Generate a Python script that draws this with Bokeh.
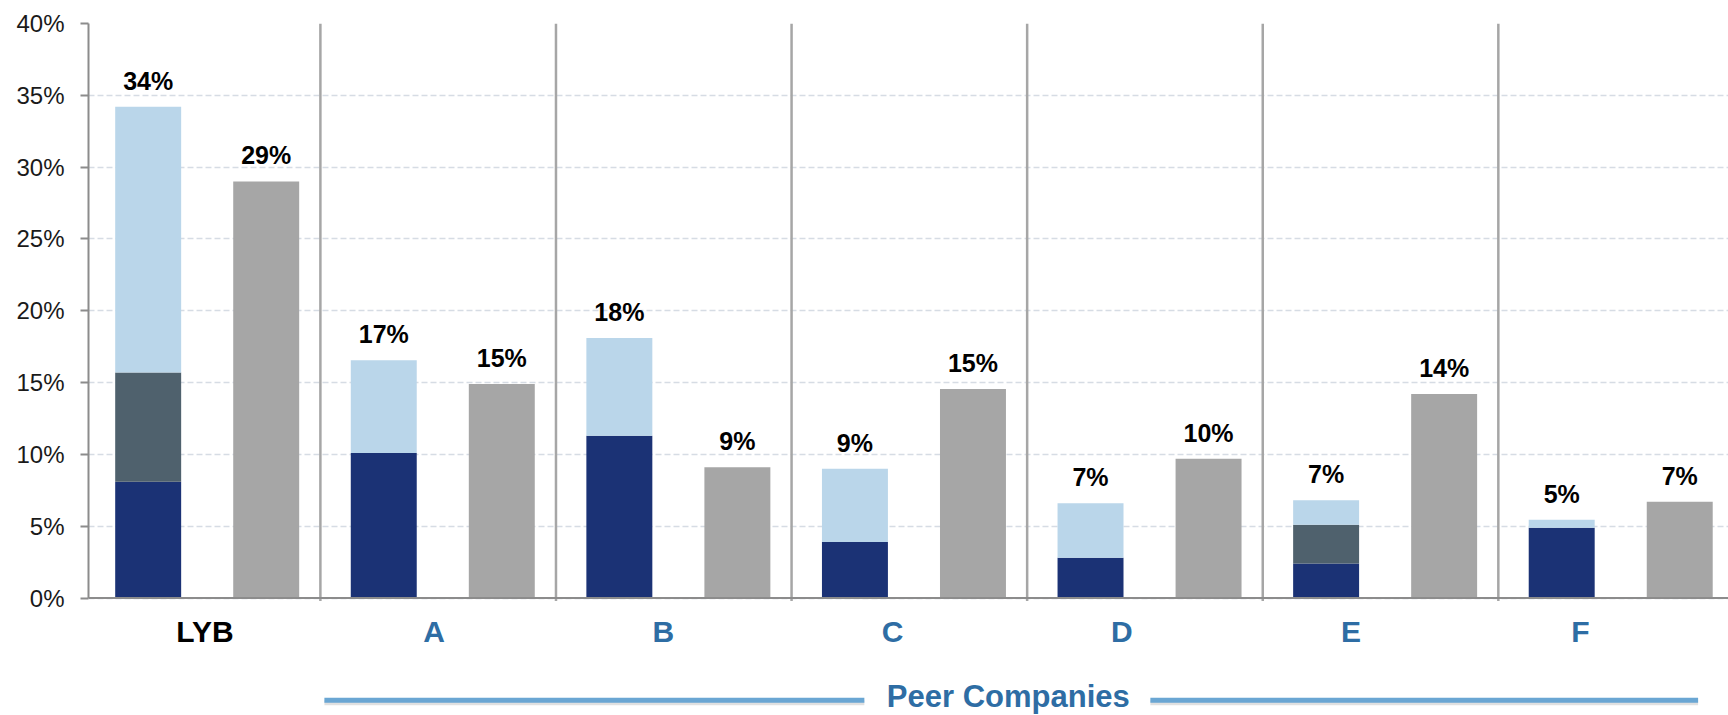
import numpy as np
from bokeh.plotting import figure
from bokeh.models import Range1d, FixedTicker, PrintfTickFormatter, ColumnDataSource, Span
from bokeh.core.properties import value
from bokeh.embed import file_html
from bokeh.resources import INLINE

# Company groups and their stacked / single bar values (percent)
companies = ["LYB", "A", "B", "C", "D", "E", "F"]
navy_part = [8.1, 10.1, 11.3, 3.9, 2.8, 2.4, 4.9]
slate_part = [7.6, 0.0, 0.0, 0.0, 0.0, 2.7, 0.0]
light_part = [18.5, 6.45, 6.8, 5.1, 3.8, 1.7, 0.55]
gray_bar = [29.0, 14.9, 9.1, 14.55, 9.7, 14.2, 6.7]
y_ticks = [0, 5, 10, 15, 20, 25, 30, 35, 40]
group_title = "Peer Companies"

NAVY = "#1B3275"
SLATE = "#4F616D"
LIGHT = "#BAD6EA"
GRAY = "#A6A6A6"
AXIS = "#8C8C8C"
BLUE_TEXT = "#2E6DA4"
PEER_LINE = "#6AA6D3"
FONT = value("Liberation Sans")

n = np.arange(len(companies))
blue_x = n + 0.269
gray_x = n + 0.770
bar_w = 0.28

navy_top = np.array(navy_part)
slate_top = navy_top + np.array(slate_part)
light_top = slate_top + np.array(light_part)
gray_top = np.array(gray_bar)


def pct(v):
    return f"{int(np.floor(v + 0.5))}%"


x_start, x_end = 0.0157, 6.977
p = figure(width=1728, height=715,
           x_range=Range1d(x_start, x_end), y_range=Range1d(-8.18, 40),
           output_backend="svg", toolbar_location=None, x_axis_location=None,
           min_border_left=88, min_border_right=0, min_border_top=23, min_border_bottom=0)
p.outline_line_color = None
p.background_fill_color = "white"
p.xgrid.visible = False

# y axis
yax = p.yaxis[0]
yax.ticker = FixedTicker(ticks=y_ticks)
yax.bounds = (0, 40)
yax.formatter = PrintfTickFormatter(format="%d%%")
yax.axis_line_color = AXIS
yax.axis_line_width = 2
yax.major_tick_line_color = AXIS
yax.major_tick_line_width = 2
yax.major_tick_out = 8
yax.major_tick_in = 0
yax.minor_tick_line_color = None
yax.major_label_text_font = "Liberation Sans"
yax.major_label_text_font_size = "24px"
yax.major_label_text_color = "#1A1A1A"
yax.major_label_standoff = 16

p.ygrid.grid_line_color = "#D6DCE4"
p.ygrid.grid_line_dash = "6 3"
p.ygrid.grid_line_width = 1.5

# group separators
p.segment(x0=n[1:], y0=-0.2, x1=n[1:], y1=40, line_color=GRAY, line_width=2.5)

# stacked bars
stack = ColumnDataSource(dict(x=blue_x, navy=navy_top, slate=slate_top, light=light_top))
p.vbar(x="x", width=bar_w, bottom=0, top="navy", source=stack, fill_color=NAVY, line_color=None)
p.vbar(x="x", width=bar_w, bottom="navy", top="slate", source=stack, fill_color=SLATE, line_color=None)
p.vbar(x="x", width=bar_w, bottom="slate", top="light", source=stack, fill_color=LIGHT, line_color=None)

# single gray bars
gsrc = ColumnDataSource(dict(x=gray_x, top=gray_top))
p.vbar(x="x", width=bar_w, bottom=0, top="top", source=gsrc, fill_color=GRAY, line_color=None)

# x axis line
p.add_layout(Span(location=0, dimension="width", line_color=AXIS, line_width=2))

# value labels
lab = ColumnDataSource(dict(
    x=np.concatenate([blue_x, gray_x]),
    y=np.concatenate([light_top, gray_top]),
    t=[pct(v) for v in light_top] + [pct(v) for v in gray_top],
))
p.text(x="x", y="y", text="t", source=lab, text_align="center", text_baseline="bottom",
       y_offset=-12, text_font=FONT, text_font_style="bold", text_font_size="25px",
       text_color="black")

# company names
cat = ColumnDataSource(dict(
    x=0.51 + 0.973 * n,
    y=np.full(len(companies), -2.33),
    t=companies,
    c=["#000000"] + [BLUE_TEXT] * (len(companies) - 1),
))
p.text(x="x", y="y", text="t", text_color="c", source=cat, text_align="center",
       text_baseline="middle", text_font=FONT, text_font_style="bold", text_font_size="30px")

# peer companies bracket
p.segment(x0=[1.017, 4.523], y0=[-7.3, -7.3], x1=[3.309, 6.848], y1=[-7.3, -7.3],
          line_color="black", line_alpha=0.12, line_width=5)
p.segment(x0=[1.017, 4.523], y0=[-7.12, -7.12], x1=[3.309, 6.848], y1=[-7.12, -7.12],
          line_color=PEER_LINE, line_width=5)
p.text(x=[3.92], y=[-6.88], text=[group_title], text_align="center", text_baseline="middle",
       text_font=FONT, text_font_style="bold", text_font_size="31px", text_color=BLUE_TEXT)

open("out.html", "w").write(file_html(p, INLINE))
